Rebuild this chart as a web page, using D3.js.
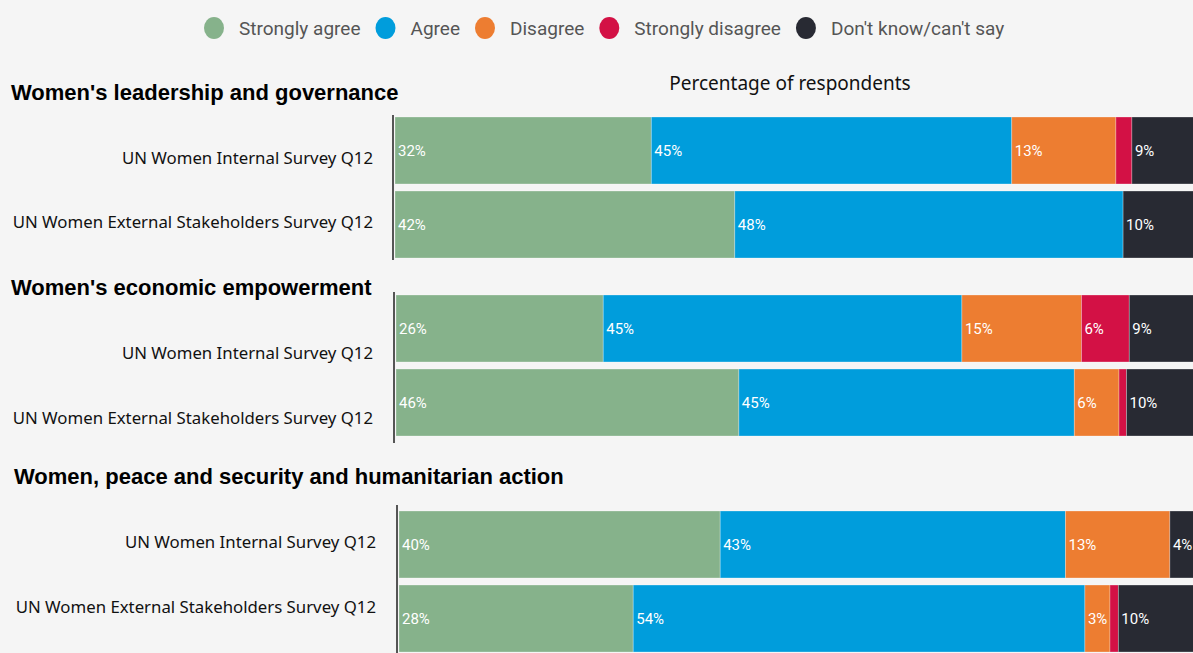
<!DOCTYPE html>
<html>
<head>
<meta charset="utf-8">
<script src="https://cdn.jsdelivr.net/npm/d3@7"></script>
<style>
  html, body { margin: 0; padding: 0; background: #f5f5f5; }
  svg { display: block; }
</style>
</head>
<body>
<svg id="chart" width="1193" height="653"></svg>
<script>
// data
var sections = ["Women's leadership and governance", "Women's economic empowerment", "Women, peace and security and humanitarian action"];
var surveys = ["UN Women Internal Survey Q12", "UN Women External Stakeholders Survey Q12"];
var responses = ["Strongly agree", "Agree", "Disagree", "Strongly disagree", "Don't know/can't say"];
// one value per bar: section 1 internal, section 1 external, section 2 internal, ...
var stronglyAgree    = [32, 42, 26, 46, 40, 28];
var agree            = [45, 48, 45, 45, 43, 54];
var disagree         = [13, 0, 15, 6, 13, 3];
var stronglyDisagree = [2, 0, 6, 1, 0, 1];
var dontKnow         = [9, 10, 9, 10, 4, 10];
var axisTitle = "Percentage of respondents";

var colors = ["#86b28b", "#009ddc", "#ed7d31", "#d31145", "#282a33"];

// layout of the three pasted panels
var panels = [
  {x0: 395, w: 809, barTop: 117, axisTop: 115, axisBottom: 260, titleX: 11, titleY: 100, labelX: 373, labelShift: [8, -2]},
  {x0: 396, w: 805, barTop: 295, axisTop: 292, axisBottom: 443, titleX: 11, titleY: 295, labelX: 373, labelShift: [25, 16]},
  {x0: 399, w: 803, barTop: 511, axisTop: 505, axisBottom: 656, titleX: 14, titleY: 484, labelX: 376, labelShift: [-2, -11]}
];

var series = [stronglyAgree, agree, disagree, stronglyDisagree, dontKnow];
var rows = [];
sections.forEach(function(s, i){
  surveys.forEach(function(q, j){
    var k = i * 2 + j, row = {section: i, survey: q};
    responses.forEach(function(r, m){ row[r] = series[m][k]; });
    rows.push(row);
  });
});

var stacked = d3.stack().keys(responses).offset(d3.stackOffsetExpand)(rows);
var color = d3.scaleOrdinal().domain(responses).range(colors);

var svg = d3.select('#chart');
svg.append('rect').attr('width', 1193).attr('height', 653).attr('fill', '#f5f5f5');

// legend
var legend = svg.append('g').attr('class', 'legend');
var lx = 214;
responses.forEach(function(r){
  legend.append('ellipse').attr('cx', lx).attr('cy', 28).attr('rx', 10).attr('ry', 11).attr('fill', color(r));
  var t = legend.append('text').attr('x', lx + 25).attr('y', 34.5)
    .attr('font-family', 'Roboto, sans-serif').attr('font-size', 19)
    .attr('fill', '#555').text(r);
  lx += 25 + t.node().getComputedTextLength() + 25;
});

// axis title
svg.append('text').attr('x', 790).attr('y', 90).attr('text-anchor', 'middle')
  .attr('font-family', '"Noto Sans", sans-serif').attr('font-size', 19)
  .attr('fill', '#111').text(axisTitle);

panels.forEach(function(p, i){
  var g = svg.append('g');
  var x = d3.scaleLinear().domain([0, 1]).range([p.x0, p.x0 + p.w]);
  var y = d3.scaleBand().domain(surveys).range([p.barTop, p.barTop + 141]).paddingInner(0.095);

  g.append('text').attr('x', p.titleX).attr('y', p.titleY)
    .attr('font-family', '"Liberation Sans", Arial, sans-serif').attr('font-weight', 'bold')
    .attr('font-size', 22).attr('fill', '#000').text(sections[i]);

  stacked.forEach(function(layer, m){
    var segs = layer.filter(function(d){ return d.data.section === i; });
    g.selectAll('rect.s' + m).data(segs).enter().append('rect')
      .attr('x', function(d){ return x(d[0]); })
      .attr('y', function(d){ return y(d.data.survey); })
      .attr('width', function(d){ return Math.max(0, x(d[1]) - x(d[0])); })
      .attr('height', y.bandwidth())
      .attr('fill', colors[m])
      .attr('stroke', 'rgba(255,255,255,0.35)').attr('stroke-width', 0.8);
    g.selectAll('text.v' + m).data(segs.filter(function(d){ return d.data[layer.key] >= 3; }))
      .enter().append('text')
      .attr('x', function(d){ return x(d[0]) + 3; })
      .attr('y', function(d){ return y(d.data.survey) + y.bandwidth() / 2; })
      .attr('dy', '0.36em')
      .attr('font-family', 'Roboto, sans-serif').attr('font-size', 15)
      .attr('fill', '#fff').text(function(d){ return d.data[layer.key] + '%'; });
  });

  surveys.forEach(function(q, j){
    g.append('text').attr('x', p.labelX)
      .attr('y', y(q) + y.bandwidth() / 2 + p.labelShift[j])
      .attr('dy', '0.35em').attr('text-anchor', 'end')
      .attr('font-family', '"Noto Sans", sans-serif').attr('font-size', 16.8)
      .attr('fill', '#111').text(q);
  });

  g.append('line').attr('x1', p.x0 - 2).attr('x2', p.x0 - 2)
    .attr('y1', p.axisTop).attr('y2', p.axisBottom)
    .attr('stroke', '#555').attr('stroke-width', 2);
});
</script>
</body>
</html>
